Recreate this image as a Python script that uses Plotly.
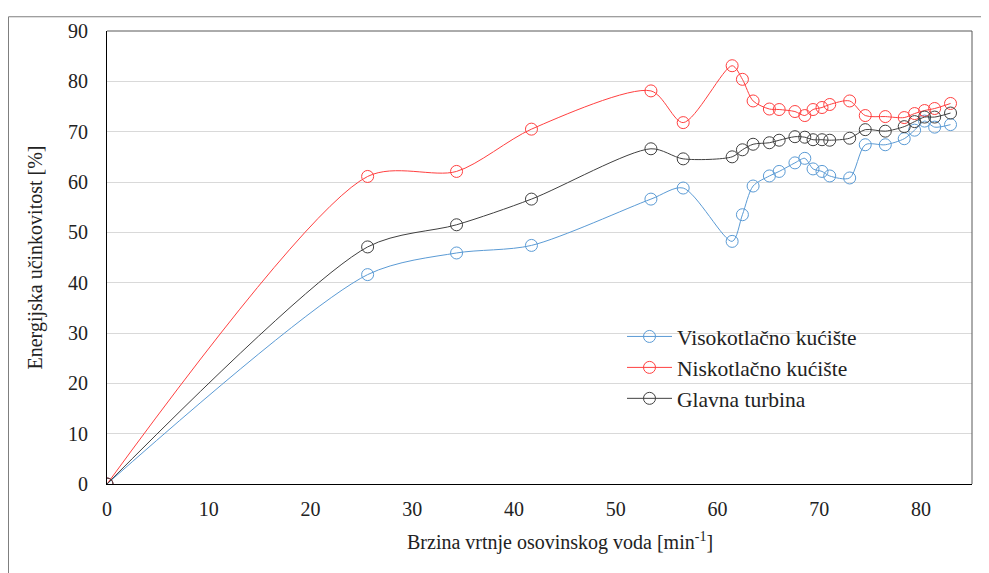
import plotly.graph_objects as go

speed = [0, 25.61, 34.35, 41.71, 53.45, 56.62, 61.43, 62.44, 63.49, 65.09, 66.05,
         67.60, 68.57, 69.38, 70.26, 71.02, 72.98, 74.51, 76.48, 78.34, 79.36,
         80.34, 81.33, 82.89]

vis = [0, 41.6, 45.9, 47.4, 56.6, 58.8, 48.2, 53.5, 59.2, 61.2, 62.1,
       63.8, 64.7, 62.6, 62.1, 61.2, 60.8, 67.4, 67.4, 68.6, 70.3,
       72.1, 70.9, 71.4]

nisk = [0, 61.1, 62.1, 70.5, 78.1, 71.8, 83.1, 80.4, 76.1, 74.5, 74.4,
        74.0, 73.2, 74.4, 74.8, 75.4, 76.1, 73.2, 73.0, 72.8, 73.6,
        74.2, 74.6, 75.6]

glav = [0, 47.1, 51.5, 56.6, 66.6, 64.6, 65.0, 66.4, 67.5, 67.8, 68.3,
        69.0, 68.9, 68.4, 68.4, 68.3, 68.7, 70.4, 70.1, 71.0, 72.0,
        72.9, 72.9, 73.7]

names = ["Visokotlačno kućište", "Niskotlačno kućište", "Glavna turbina"]
colors = ["#5B9BD5", "#FF4040", "#404040"]
series = [vis, nisk, glav]

x_title = "Brzina vrtnje osovinskog voda [min<sup>-1</sup>]"
y_title = "Energijska učinkovitost [%]"

FONT = "'Times New Roman', 'Liberation Serif', 'DejaVu Serif', serif"
TXT = "#222222"

fig = go.Figure()
for name, col, ys in zip(names, colors, series):
    fig.add_trace(go.Scatter(
        x=speed, y=ys, name=name, mode="lines+markers",
        line=dict(color=col, width=1, shape="spline", smoothing=0.8),
        marker=dict(symbol="circle-open", size=12, color=col, line=dict(width=1, color=col)),
    ))

# page has an 8px body margin; figure coords = page coords - 8
OFF = 8
W, H = 989 - OFF, 573 - OFF
L, T, R, B = 107 - OFF, 23 - OFF, 972 - OFF, 484 - OFF
pw, ph = R - L, B - T

fig.update_layout(
    width=W, height=H,
    margin=dict(l=L, r=W - R, t=T, b=H - B),
    paper_bgcolor="white", plot_bgcolor="white",
    font=dict(family=FONT, size=20, color=TXT),
    showlegend=True,
    legend=dict(
        x=(622 - OFF - L) / pw, y=(B - (313 - OFF)) / ph, xanchor="left", yanchor="top",
        bgcolor="rgba(0,0,0,0)", font=dict(family=FONT, size=21.5, color=TXT),
        tracegroupgap=0, itemwidth=45,
    ),
    xaxis=dict(
        range=[0, 85], tickmode="array", tickvals=[0, 10, 20, 30, 40, 50, 60, 70, 80],
        showgrid=False, zeroline=False, showline=True, linecolor="#000000", linewidth=1,
        ticks="", ticklabelstandoff=7, tickfont=dict(family=FONT, size=20, color=TXT),
    ),
    yaxis=dict(
        range=[0, 90], tickmode="array", tickvals=list(range(0, 91, 10)),
        showgrid=True, gridcolor="#D9D9D9", gridwidth=1, zeroline=False,
        showline=True, linecolor="#000000", linewidth=1,
        ticks="", ticklabelstandoff=14, tickfont=dict(family=FONT, size=20, color=TXT),
        title=dict(text=y_title, font=dict(family=FONT, size=20, color=TXT), standoff=20),
    ),
    annotations=[
        dict(text=x_title, xref="paper", yref="paper",
             x=(560 - OFF - L) / pw, y=(B - (543 - OFF)) / ph,
             xanchor="center", yanchor="middle", showarrow=False,
             font=dict(family=FONT, size=20, color=TXT)),
    ],
    shapes=[
        dict(type="line", xref="paper", yref="paper", x0=0, x1=1, y0=1, y1=1,
             line=dict(color="#595959", width=1)),
        dict(type="line", xref="paper", yref="paper", x0=1, x1=1, y0=0, y1=1,
             line=dict(color="#595959", width=1)),
        # outer chart frame (top and left edges visible)
        dict(type="rect", xref="paper", yref="paper",
             x0=(0.5 - L) / pw, x1=(W + 10 - L) / pw,
             y0=(B - (H + 10)) / ph, y1=(B - 0.5) / ph,
             line=dict(color="#7F7F7F", width=1), layer="below"),
    ],
)

fig.write_html("out.html")
